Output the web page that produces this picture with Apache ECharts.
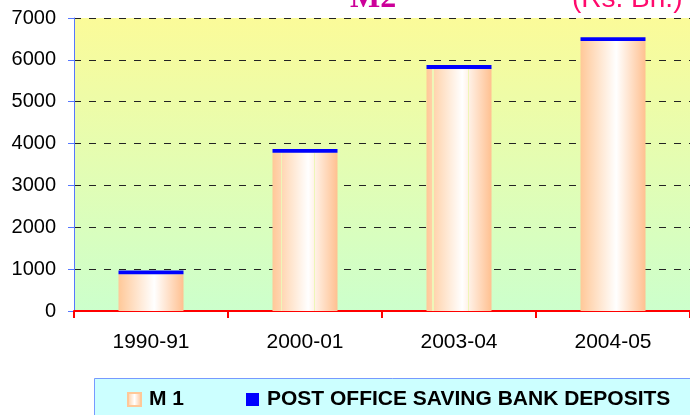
<!DOCTYPE html>
<html>
<head>
<meta charset="utf-8">
<script src="https://cdn.jsdelivr.net/npm/echarts@6/dist/echarts.min.js"></script>
<style>
  html, body { margin: 0; padding: 0; background: #ffffff; }
  #chart { width: 690px; height: 415px; }
</style>
</head>
<body>
<div id="chart"></div>
<script>
// Money supply components, Rs. Bn.
const categories = ['1990-91', '2000-01', '2003-04', '2004-05'];
const m1Values = [880, 3780, 5780, 6450];
const postOfficeValues = [88, 90, 95, 88];
const yMin = 0;
const yMax = 7000;
const yStep = 1000;

const PEACH_L = [255, 200, 152];
const PEACH_R = [255, 192, 144];
const WHITE = [255, 255, 255];
const baseStops = [[0, PEACH_L], [0.55, WHITE], [1, PEACH_R]];

function rgb(c) { return 'rgb(' + c.map(Math.round).join(',') + ')'; }
function colorAt(p) {
  for (let i = 0; i < baseStops.length - 1; i++) {
    const [p0, c0] = baseStops[i], [p1, c1] = baseStops[i + 1];
    if (p >= p0 && p <= p1) {
      const t = (p - p0) / (p1 - p0);
      return c0.map((v, k) => v + (c1[k] - v) * t);
    }
  }
  return baseStops[baseStops.length - 1][1];
}
// cylinder-like horizontal shading, with optional thin seams
function barFill(seams) {
  const stops = [];
  const half = 0.008;
  const marks = [0, 0.55, 1].map(p => ({ p, seam: false }))
    .concat((seams || []).map(p => ({ p, seam: true })))
    .sort((a, b) => a.p - b.p);
  marks.forEach(m => {
    if (!m.seam) {
      stops.push({ offset: m.p, color: rgb(colorAt(m.p)) });
    } else {
      stops.push({ offset: m.p - half, color: rgb(colorAt(m.p - half)) });
      stops.push({ offset: m.p - half, color: '#eef6b8' });
      stops.push({ offset: m.p + half, color: '#eef6b8' });
      stops.push({ offset: m.p + half, color: rgb(colorAt(m.p + half)) });
    }
  });
  return new echarts.graphic.LinearGradient(0, 0, 1, 0, stops);
}
const seamSets = [[], [0.14, 0.645], [0.10, 0.645], []];

const chart = echarts.init(document.getElementById('chart'), null, { renderer: 'canvas' });

chart.setOption({
  animation: false,
  title: [
    {
      text: 'M2',
      left: 350,
      top: -17,
      padding: 0,
      textStyle: { fontFamily: 'Liberation Serif', fontWeight: 'bold', fontSize: 32, color: '#cc0099' }
    },
    {
      text: '(Rs. Bn.)',
      left: 572,
      top: -15,
      padding: 0,
      textStyle: { fontFamily: 'Liberation Sans', fontWeight: 'normal', fontSize: 28, color: '#ff0a6c' }
    }
  ],
  graphic: [
    {
      // legend panel
      type: 'rect',
      silent: true,
      z: -1,
      shape: { x: 94.5, y: 378.5, width: 640, height: 60 },
      style: { fill: '#ccffff', stroke: '#7799ff', lineWidth: 1 }
    }
  ],
  legend: {
    left: 127,
    top: 389,
    orient: 'horizontal',
    padding: 0,
    itemWidth: 13,
    itemHeight: 13,
    itemGap: 62,
    selectedMode: false,
    textStyle: {
      fontFamily: 'Liberation Sans',
      fontWeight: 'bold',
      fontSize: 21,
      color: '#000000',
      padding: [0, 0, 0, 3]
    },
    data: [
      {
        name: 'M 1',
        icon: 'rect',
        itemStyle: {
          color: new echarts.graphic.LinearGradient(0, 0, 1, 0, [
            { offset: 0, color: '#ffc898' }, { offset: 0.5, color: '#ffffff' }, { offset: 1, color: '#ffc090' }
          ]),
          borderColor: '#ffc898',
          borderWidth: 2
        }
      },
      { name: 'POST OFFICE SAVING BANK DEPOSITS', icon: 'rect', itemStyle: { color: '#0000ff' } }
    ]
  },
  grid: {
    left: 74,
    top: 18,
    right: -4,
    bottom: 104,
    show: true,
    borderWidth: 0,
    backgroundColor: new echarts.graphic.LinearGradient(0, 0, 0, 1, [
      { offset: 0, color: '#fbfb99' },
      { offset: 1, color: '#ccffcc' }
    ])
  },
  xAxis: {
    type: 'category',
    data: categories,
    boundaryGap: true,
    axisLine: { show: true, lineStyle: { color: '#ff0000', width: 2 } },
    axisTick: { show: true, alignWithLabel: false, length: 7, lineStyle: { color: '#ff0000', width: 2 } },
    axisLabel: { fontFamily: 'Liberation Sans', fontSize: 21, color: '#000000', margin: 21 },
    splitLine: { show: false }
  },
  yAxis: {
    type: 'value',
    min: yMin,
    max: yMax,
    interval: yStep,
    axisLine: { show: true, lineStyle: { color: '#5577ff', width: 1 } },
    axisTick: { show: true, inside: false, length: 6, lineStyle: { color: '#5577ff', width: 1 } },
    axisLabel: {
      fontFamily: 'Liberation Sans', fontSize: 20, color: '#000000', margin: 18,
      formatter: v => String(v)
    },
    splitLine: { show: true, lineStyle: { color: '#222222', width: 1, type: [7, 8] } }
  },
  series: [
    {
      name: 'M 1',
      type: 'bar',
      stack: 'm2',
      barWidth: 65,
      data: m1Values.map((v, i) => ({ value: v, itemStyle: { color: barFill(seamSets[i]) } })),
      itemStyle: { color: barFill([]) }
    },
    {
      name: 'POST OFFICE SAVING BANK DEPOSITS',
      type: 'bar',
      stack: 'm2',
      barWidth: 65,
      data: postOfficeValues,
      itemStyle: { color: '#0000ff' }
    }
  ]
});
</script>
</body>
</html>
